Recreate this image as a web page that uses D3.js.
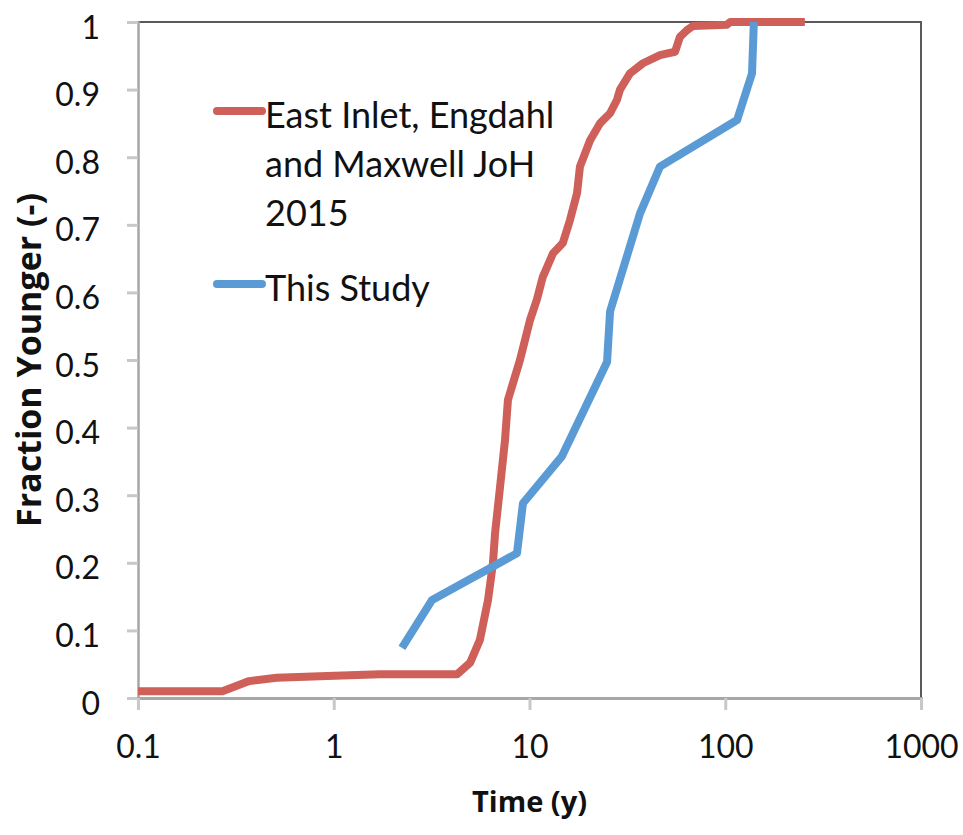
<!DOCTYPE html>
<html>
<head>
<meta charset="utf-8">
<script src="https://cdn.jsdelivr.net/npm/d3@7"></script>
<style>
  body { margin: 0; background: #fff; }
  svg { display: block; }
</style>
</head>
<body>
<div id="chart"></div>
<script>
// East Inlet (Engdahl and Maxwell JoH 2015): time (y), fraction younger
var eastInletTime = [0.1, 0.27, 0.37, 0.51, 0.85, 1.72, 4.27, 4.97, 5.58, 6.14, 6.51, 6.67, 7.07, 7.5, 7.76, 8.24, 8.94, 10.06, 10.9, 11.7, 13.2, 14.8, 16.1, 17.5, 18.1, 20.4, 22.9, 25.8, 28, 29, 32.6, 38, 46.4, 55.4, 58.7, 63.8, 68.4, 102, 106, 255];
var eastInletFrac = [0.01, 0.01, 0.025, 0.03, 0.032, 0.035, 0.035, 0.052, 0.086, 0.145, 0.2, 0.244, 0.312, 0.382, 0.441, 0.466, 0.5, 0.559, 0.589, 0.623, 0.658, 0.673, 0.707, 0.747, 0.786, 0.825, 0.85, 0.865, 0.885, 0.9, 0.924, 0.939, 0.951, 0.956, 0.978, 0.988, 0.994, 0.996, 1.0, 1.0];

// This Study
var studyTime = [2.23, 3.18, 8.63, 9.26, 14.6, 24.9, 25.8, 36.7, 46.4, 115, 137, 140];
var studyFrac = [0.074, 0.145, 0.214, 0.288, 0.357, 0.497, 0.572, 0.717, 0.786, 0.855, 0.924, 1.0];

var xTicks = [0.1, 1, 10, 100, 1000];
var yTicks = [0, 0.1, 0.2, 0.3, 0.4, 0.5, 0.6, 0.7, 0.8, 0.9, 1];

var legendLabels = [
    ["East Inlet, Engdahl", "and Maxwell JoH", "2015"],
    ["This Study"]
];
var seriesColors = ["#CF5F59", "#5B9BD5"];

var width = 963, height = 835;
var margin = { top: 22, right: 42, bottom: 137, left: 138 };
var w = width - margin.left - margin.right;
var h = height - margin.top - margin.bottom;

var svg = d3.select("#chart").append("svg")
    .attr("width", width)
    .attr("height", height);

var g = svg.append("g")
    .attr("transform", "translate(" + margin.left + "," + margin.top + ")");

var x = d3.scaleLog().domain([0.1, 1000]).range([0, w]);
var y = d3.scaleLinear().domain([0, 1]).range([h, 0]);

// chart border (top and right)
g.append("path")
    .attr("d", "M0,0H" + w + "V" + h)
    .attr("fill", "none")
    .attr("stroke", "#5a5a5a")
    .attr("stroke-width", 2);

// y axis
var yAxis = g.append("g")
    .call(d3.axisLeft(y).tickValues(yTicks).tickSize(11).tickPadding(27)
        .tickFormat(function(d) { return d === 0 || d === 1 ? d : d3.format(".1f")(d); }));
yAxis.select(".domain").attr("stroke", "#a6a6a6").attr("stroke-width", 2.5);
yAxis.selectAll(".tick line").attr("stroke", "#c8c8c8").attr("stroke-width", 3);
yAxis.selectAll(".tick text")
    .attr("font-family", "Lato, sans-serif")
    .attr("font-size", 32)
    .attr("fill", "#111")
    .attr("dy", "0.5em");

// x axis
var xAxis = g.append("g")
    .attr("transform", "translate(0," + h + ")")
    .call(d3.axisBottom(x).tickValues(xTicks).tickSize(12).tickPadding(25)
        .tickFormat(function(d) { return d < 1 ? d3.format(".1f")(d) : d3.format("d")(d); }));
xAxis.select(".domain").attr("stroke", "#a6a6a6").attr("stroke-width", 3);
xAxis.selectAll(".tick line").attr("stroke", "#c8c8c8").attr("stroke-width", 3);
xAxis.selectAll(".tick text")
    .attr("font-family", "Lato, sans-serif")
    .attr("font-size", 32)
    .attr("fill", "#111");

// axis titles
svg.append("text")
    .attr("x", margin.left + x(10))
    .attr("y", 812)
    .attr("text-anchor", "middle")
    .attr("font-family", "'Open Sans', sans-serif")
    .attr("font-weight", "bold")
    .attr("font-size", 29)
    .attr("fill", "#111")
    .text("Time (y)");

svg.append("text")
    .attr("transform", "translate(41,360) rotate(-90)")
    .attr("text-anchor", "middle")
    .attr("font-family", "'Open Sans', sans-serif")
    .attr("font-weight", "bold")
    .attr("font-size", 34)
    .attr("fill", "#111")
    .text("Fraction Younger (-)");

// lines
var line = d3.line()
    .x(function(d) { return x(d[0]); })
    .y(function(d) { return y(d[1]); });

var series = [
    d3.zip(eastInletTime, eastInletFrac),
    d3.zip(studyTime, studyFrac)
];

g.selectAll(".series")
    .data(series)
    .enter().append("path")
    .attr("class", "series")
    .attr("d", line)
    .attr("fill", "none")
    .attr("stroke", function(d, i) { return seriesColors[i]; })
    .attr("stroke-width", 8)
    .attr("stroke-linejoin", "round");

// legend
var legendY = [111, 284];
var legend = svg.append("g");
legendLabels.forEach(function(lines, i) {
    legend.append("line")
        .attr("x1", 217).attr("x2", 262)
        .attr("y1", legendY[i]).attr("y2", legendY[i])
        .attr("stroke", seriesColors[i])
        .attr("stroke-width", 8)
        .attr("stroke-linecap", "round");
    lines.forEach(function(t, j) {
        legend.append("text")
            .attr("x", 265)
            .attr("y", legendY[i] + 17 + j * 49)
            .attr("font-family", "Lato, sans-serif")
            .attr("font-size", 36)
            .attr("fill", "#111")
            .text(t);
    });
});
</script>
</body>
</html>
